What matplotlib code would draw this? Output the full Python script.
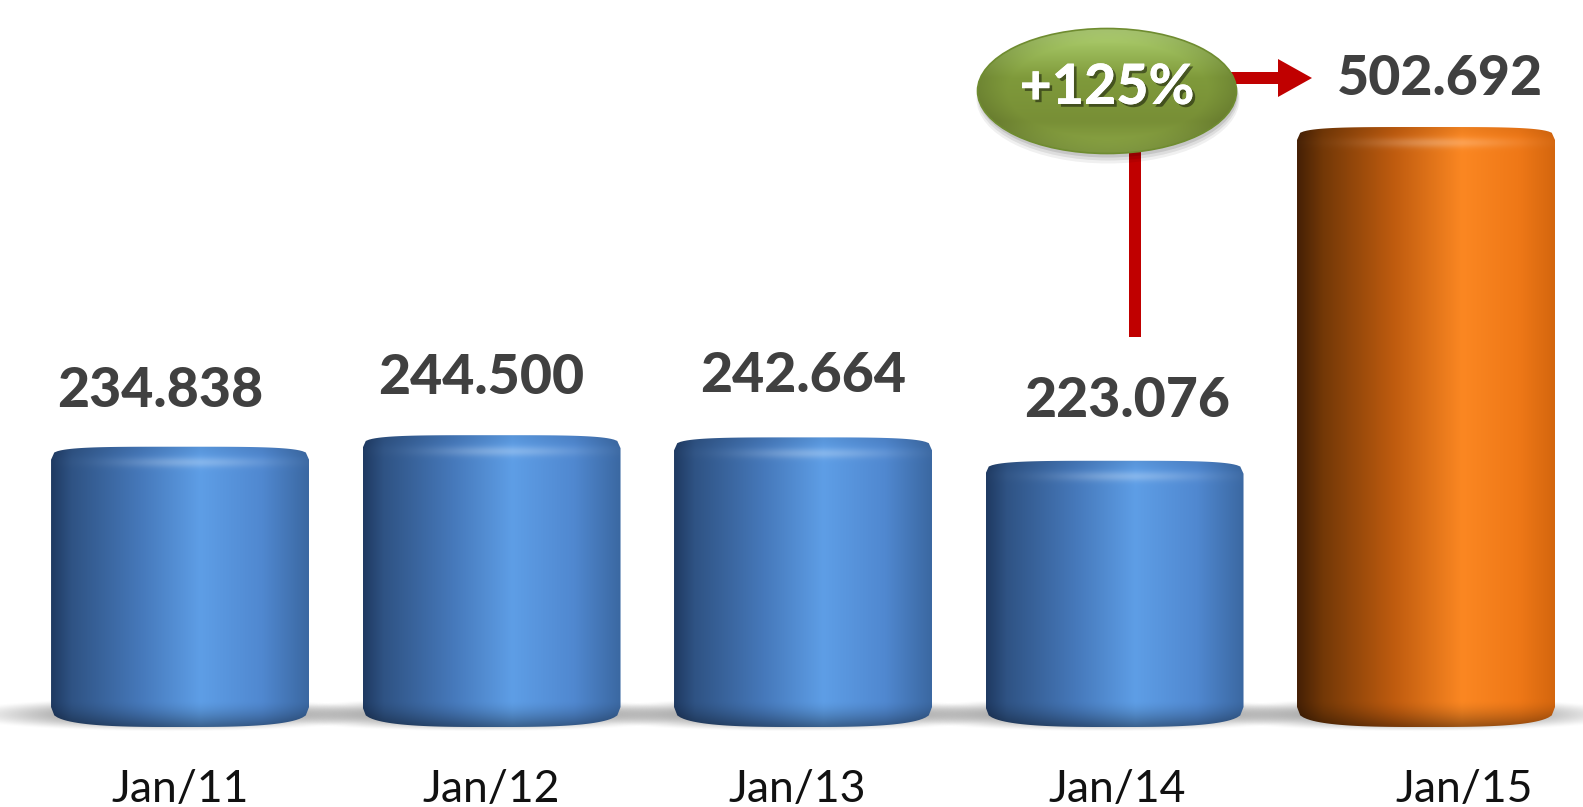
import numpy as np
import matplotlib.pyplot as plt
from matplotlib.colors import to_rgb
from matplotlib.patches import Polygon, Ellipse
import matplotlib.patheffects as pe

plt.rcParams['font.family'] = ['Lato', 'DejaVu Sans']

# ---------------- data ----------------
periods = ['Jan/11', 'Jan/12', 'Jan/13', 'Jan/14', 'Jan/15']
values = [234.838, 244.500, 242.664, 223.076, 502.692]
value_labels = ['234.838', '244.500', '242.664', '223.076', '502.692']
growth_label = '+125%'

# ---------------- canvas ----------------
W, H = 1583, 807
XMIN, XMAX = -0.578, 4.504
YMIN, YMAX = -67.0, 609.1
kx = W / (XMAX - XMIN)   # px per x unit
ky = H / (YMAX - YMIN)   # px per y unit

fig = plt.figure(figsize=(W / 100, H / 100), dpi=100)
ax = fig.add_axes([0, 0, 1, 1])


def px_x(p):
    return p / kx


def px_y(p):
    return p / ky


def ramp(stops, n):
    pos = np.array([s[0] for s in stops])
    cols = np.array([to_rgb(s[1]) for s in stops])
    t = np.linspace(0, 1, n)
    return np.stack([np.interp(t, pos, cols[:, i]) for i in range(3)], axis=1)


blue_stops = [(0.0, '#1f3a62'), (0.08, '#2f5384'), (0.35, '#4679bb'),
              (0.58, '#5e9ee6'), (0.82, '#5088d0'), (1.0, '#3b68a2')]
orange_stops = [(0.0, '#452005'), (0.1, '#733807'), (0.38, '#c05c0f'),
                (0.64, '#fb8722'), (0.86, '#ef7817'), (1.0, '#d4660e')]
bar_stops = [blue_stops] * 4 + [orange_stops]

bar_w = px_x(258)
top_e = px_y(13)
bot_e = px_y(20)


def cylinder_outline(xc, v, n=80):
    x0, x1 = xc - bar_w / 2, xc + bar_w / 2
    t = np.linspace(-1, 1, n)
    top_x = xc + bar_w / 2 * t
    top_y = v - top_e + top_e * (1 - np.abs(t) ** 4) ** 0.25
    bot_x = top_x[::-1]
    bot_y = bot_e - bot_e * (1 - np.abs(t) ** 3) ** (1 / 3)
    xs = np.concatenate([[x0], top_x, [x1], bot_x])
    ys = np.concatenate([[bot_e], top_y, [bot_e], bot_y[::-1]])
    return np.column_stack([xs, ys])


# ---------------- shadows ----------------
for i, v in enumerate(values):
    sx0, sx1 = i - 0.85, i + 0.85
    sy0, sy1 = px_y(-20), px_y(45)
    gx, gy = np.meshgrid(np.linspace(sx0, sx1, 320), np.linspace(sy0, sy1, 90))
    r2 = ((gx - (i - 0.03)) / 0.70) ** 2 + ((gy - px_y(12)) / px_y(17)) ** 2
    alpha = 0.85 * np.clip(1 - r2, 0, 1) ** 1.5
    img = np.zeros(gx.shape + (4,))
    img[..., :3] = 0.45
    img[..., 3] = alpha
    ax.imshow(img, extent=(sx0, sx1, sy0, sy1), origin='lower',
              aspect='auto', zorder=1, interpolation='bilinear')

# ---------------- cylinders ----------------
for i, v in enumerate(values):
    x0, x1 = i - bar_w / 2, i + bar_w / 2
    ncol, nrow = 260, 400
    base = ramp(bar_stops[i], ncol)
    ys = np.linspace(0, v, nrow)
    u = np.linspace(0, 1, ncol)
    dt = (v - ys) * ky          # px below top
    db = ys * ky                # px above base
    vf = 1 - 0.38 * np.clip(1 - db / 26, 0, 1) ** 1.5
    vf = vf * (1 - 0.06 * np.clip(1 - dt / 12, 0, 1))
    rgb = base[None, :, :] * vf[:, None, None]
    hl = 0.24 * np.exp(-((dt - 16) / 5.0) ** 2)[:, None] * \
        np.exp(-((u - 0.55) / 0.28) ** 2)[None, :]
    rgb = rgb + (1 - rgb) * hl[..., None]
    rgb = np.clip(rgb, 0, 1)
    im = ax.imshow(rgb, extent=(x0, x1, 0, v), origin='lower',
                   aspect='auto', zorder=2, interpolation='bilinear')
    outline = Polygon(cylinder_outline(i, v), closed=True, facecolor='none',
                      edgecolor='none', transform=ax.transData)
    ax.add_patch(outline)
    im.set_clip_path(outline)

# ---------------- value labels ----------------
label_nudge_px = [(-20, 56), (-10, 57), (0, 61), (13, 60), (14, 48)]
for i, (v, lab) in enumerate(zip(values, value_labels)):
    nx, ny = label_nudge_px[i]
    ax.annotate(lab, xy=(i, v), xytext=(nx * 0.72, ny * 0.72),
                textcoords='offset points', ha='center', va='center',
                fontsize=40, fontweight='black', color='#404040', zorder=5)

# ---------------- category labels ----------------
cat_nudge_px = [0, 0, -6, 3, 38]
for i, p in enumerate(periods):
    ax.annotate(p, xy=(i, 0), xytext=(cat_nudge_px[i] * 0.72, -45),
                textcoords='offset points', ha='center', va='center',
                fontsize=32, color='#111111', zorder=5)

# ---------------- growth callout ----------------
ex, ey = XMIN + px_x(1107), YMAX - px_y(91)
ew, eh = px_x(259), px_y(125)

# red connector line and arrow
lx = XMIN + px_x(1135)
ax.plot([lx, lx], [YMAX - px_y(337), YMAX - px_y(150)], color='#c00000',
        lw=12 * 0.72, solid_capstyle='butt', zorder=3)
ay = YMAX - px_y(78)
arrow = Polygon([
    (XMIN + px_x(1225), ay + px_y(6)), (XMIN + px_x(1278), ay + px_y(6)),
    (XMIN + px_x(1278), ay + px_y(19)), (XMIN + px_x(1312), ay),
    (XMIN + px_x(1278), ay - px_y(19)), (XMIN + px_x(1278), ay - px_y(6)),
    (XMIN + px_x(1225), ay - px_y(6))],
    closed=True, facecolor='#c00000', edgecolor='none', zorder=3)
ax.add_patch(arrow)

# soft shadow under the oval
for k, a in enumerate([0.10, 0.08, 0.06]):
    ax.add_patch(Ellipse((ex + px_x(1), ey - px_y(4 + 2 * k)), ew + px_x(2 * k),
                         eh + px_y(2 * k), facecolor='black', alpha=a,
                         edgecolor='none', zorder=3))

gx, gy = np.meshgrid(np.linspace(0, 1, 200), np.linspace(0, 1, 120))
green = ramp([(0.0, '#8faa48'), (0.25, '#788f36'), (0.6, '#7f9a3b'),
              (0.85, '#9fbf5e'), (1.0, '#b9d97d')], 120)
gimg = green[:, None, :] * np.ones((1, 200, 1))
rr = ((gx - 0.5) / 0.5) ** 2 + ((gy - 0.5) / 0.5) ** 2
gimg = gimg * (1 - 0.12 * np.clip(rr - 0.6, 0, 1)[..., None] / 0.4)
gim = ax.imshow(np.clip(gimg, 0, 1),
                extent=(ex - ew / 2, ex + ew / 2, ey - eh / 2, ey + eh / 2),
                origin='lower', aspect='auto', zorder=4, interpolation='bilinear')
oval = Ellipse((ex, ey), ew, eh, facecolor='none', edgecolor='#6f8c30',
               lw=1.2, zorder=4)
ax.add_patch(oval)
gim.set_clip_path(oval)

ax.text(ex, YMAX - px_y(88), growth_label, ha='center', va='center',
        fontsize=40, fontweight='black', color='white', zorder=6,
        path_effects=[pe.withSimplePatchShadow(offset=(2, -2), shadow_rgbFace='black',
                                               alpha=0.45), pe.Normal()])

ax.set_xlim(XMIN, XMAX)
ax.set_ylim(YMIN, YMAX)
ax.axis('off')

fig.savefig('out.png', dpi=100, facecolor='white')
